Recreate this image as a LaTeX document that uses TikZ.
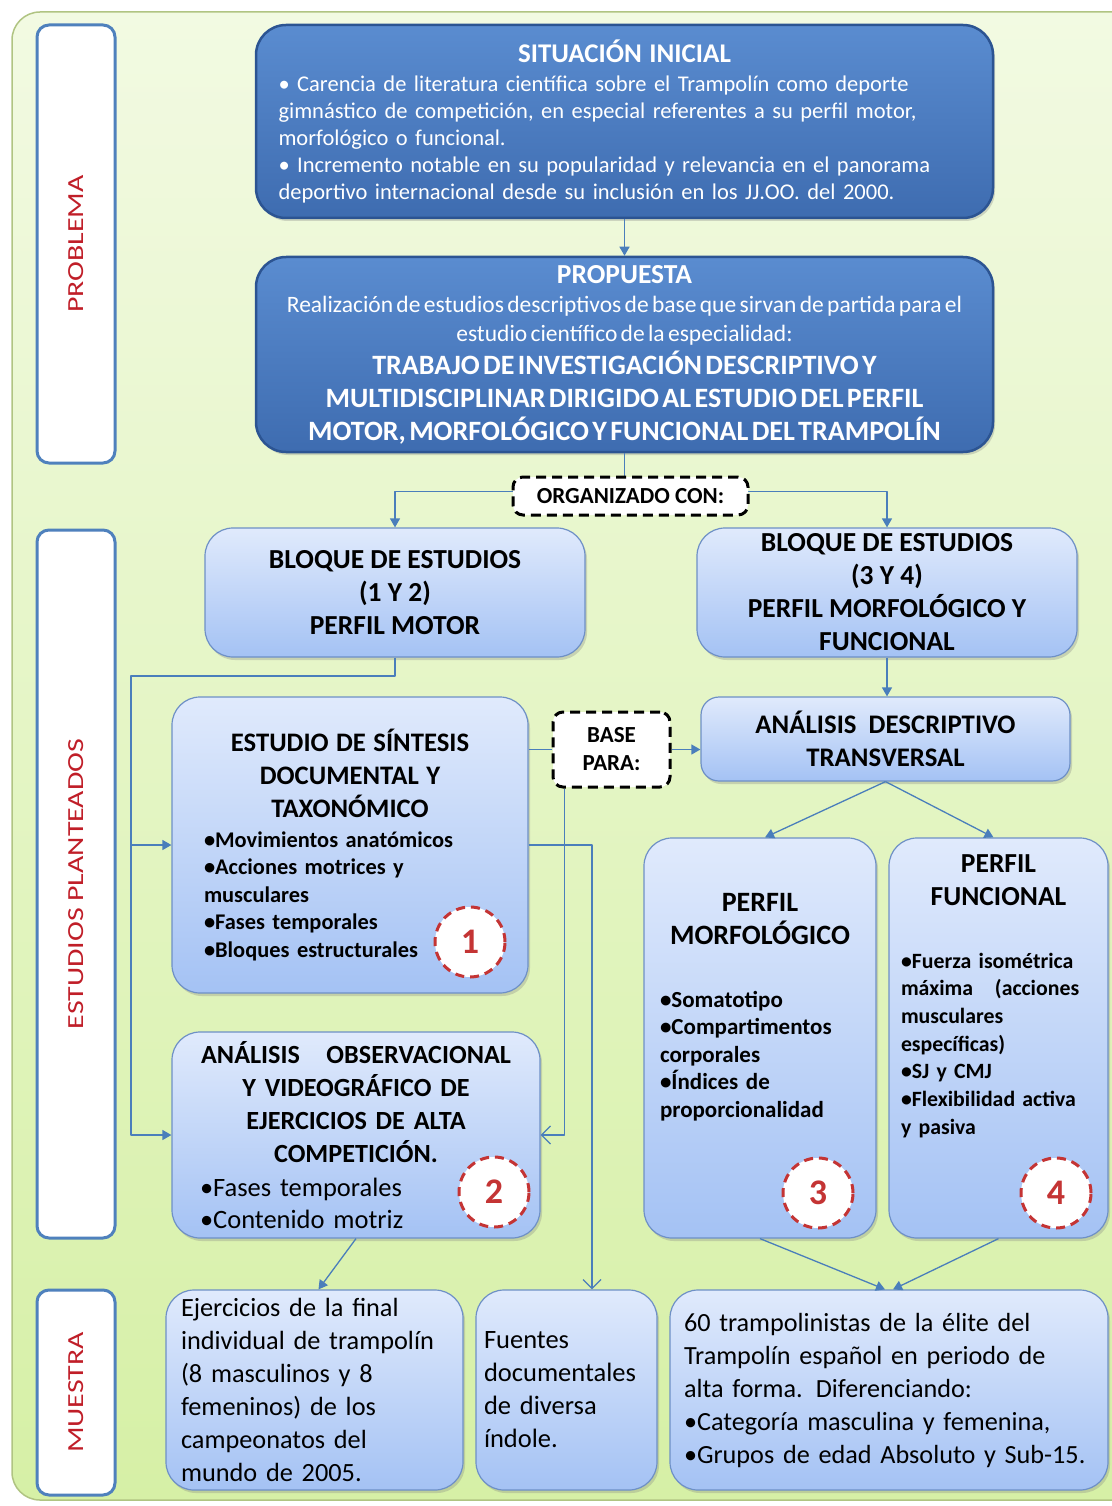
\documentclass[tikz,border=0pt]{standalone}
\usepackage{fontspec}
\usepackage{graphicx}
\setmainfont{Carlito}
\usetikzlibrary{arrows.meta,shadows,positioning}

\definecolor{paneltop}{RGB}{242,250,226}
\definecolor{panelbot}{RGB}{214,240,166}
\definecolor{panelline}{RGB}{176,196,130}
\definecolor{sideblue}{RGB}{79,129,189}
\definecolor{labelred}{RGB}{192,30,40}
\definecolor{darktop}{RGB}{90,140,208}
\definecolor{darkbot}{RGB}{62,108,176}
\definecolor{darkline}{RGB}{44,84,146}
\definecolor{lighttop}{RGB}{224,234,252}
\definecolor{lightbot}{RGB}{164,194,244}
\definecolor{lightline}{RGB}{110,144,198}
\definecolor{linkblue}{RGB}{74,126,187}
\definecolor{badgered}{RGB}{196,52,52}

\newcommand{\sidelbl}[1]{\scalebox{1.3}[1]{#1}}

\begin{document}
\begin{tikzpicture}[x=1pt,y=-1pt,>={Triangle[length=9pt,width=10pt]},line join=round,
  panel/.style={draw=panelline,line width=1.5pt,rounded corners=28pt,top color=paneltop,bottom color=panelbot},
  sidebox/.style={rotate=90,draw=sideblue,line width=3pt,fill=white,rounded corners=12pt,minimum height=78pt,inner sep=0pt,text=labelred,font=\fontsize{23}{23}\selectfont},
  darkbox/.style={draw=darkline,line width=2.5pt,rounded corners=30pt,top color=darktop,bottom color=darkbot,text=white,inner sep=0pt,
    drop shadow={shadow xshift=2pt,shadow yshift=-3pt,opacity=.3}},
  lightbox/.style={draw=lightline,line width=1.2pt,rounded corners=28pt,top color=lighttop,bottom color=lightbot,text=black,inner sep=0pt,
    drop shadow={shadow xshift=2pt,shadow yshift=-3pt,opacity=.3}},
  dashbox/.style={draw=black,line width=3pt,dash pattern=on 10pt off 6pt,rounded corners=10pt,fill=white,inner sep=0pt,font=\fontsize{23}{28}\selectfont\bfseries},
  badge/.style={circle,minimum size=70pt,inner sep=0pt,fill=white,draw=badgered,line width=3pt,dash pattern=on 9pt off 6pt,text=badgered,font=\fontsize{36}{36}\selectfont\bfseries},
  conn/.style={draw=linkblue,line width=1.3pt},
  openarr/.style={-{Straight Barb[length=9pt,width=18pt]}}]
\useasboundingbox (0,0) rectangle (1111,1506);

% background panel
\draw[panel] (12,12) rectangle (1140,1500);

% row labels
\node[sidebox,minimum width=438pt] (lprob) at (76,244) {\sidelbl{PROBLEMA}};
\node[sidebox,minimum width=708pt] (lest) at (76,884) {\sidelbl{ESTUDIOS PLANTEADOS}};
\node[sidebox,minimum width=205pt] (lmue) at (76,1392.5) {\sidelbl{MUESTRA}};

% problema
\node[darkbox,minimum width=737pt,minimum height=193pt,text width=692pt,align=left,font=\fontsize{22.5}{27}\selectfont] (sit) at (624.5,121.5) {%
  {\centering\fontsize{27}{30}\selectfont\bfseries SITUACIÓN INICIAL\par}\vspace{2pt}
  • Carencia de literatura científica sobre el Trampolín como deporte\\
  gimnástico de competición, en especial referentes a su perfil motor,\\
  morfológico o funcional.\\
  • Incremento notable en su popularidad y relevancia en el panorama\\
  deportivo internacional desde su inclusión en los JJ.OO. del 2000.};
\node[darkbox,minimum width=737pt,minimum height=195pt,text width=715pt,align=center] (prop) at (624.5,354.5) {%
  {\fontsize{27.5}{28}\selectfont\bfseries PROPUESTA\par}
  {\fontsize{23.5}{29}\selectfont Realización de estudios descriptivos de base que sirvan de partida para el\\
  estudio científico de la especialidad:\par}
  {\fontsize{28}{33}\selectfont\bfseries TRABAJO DE INVESTIGACIÓN DESCRIPTIVO Y\\
  MULTIDISCIPLINAR DIRIGIDO AL ESTUDIO DEL PERFIL\\
  MOTOR, MORFOLÓGICO Y FUNCIONAL DEL TRAMPOLÍN\par}};

% estudios
\node[lightbox,minimum width=380pt,minimum height=129pt,align=center,font=\fontsize{27.5}{33}\selectfont\bfseries] (blk12) at (395,592.5)
  {BLOQUE DE ESTUDIOS\\(1 Y 2)\\PERFIL MOTOR};
\node[lightbox,minimum width=380pt,minimum height=129pt,align=center,font=\fontsize{27.5}{33}\selectfont\bfseries] (blk34) at (887,592.5)
  {BLOQUE DE ESTUDIOS\\(3 Y 4)\\PERFIL MORFOLÓGICO Y\\FUNCIONAL};
\node[lightbox,rounded corners=18pt,minimum width=369pt,minimum height=84pt,align=center,font=\fontsize{26.8}{33}\selectfont\bfseries] (adt) at (885.5,739)
  {ANÁLISIS\ \ DESCRIPTIVO\\TRANSVERSAL};
\node[lightbox,minimum width=356pt,minimum height=296pt,text width=292pt,align=left,font=\fontsize{22.4}{27.5}\selectfont\bfseries] (est1) at (350,845) {%
  {\centering\fontsize{26.7}{33}\selectfont ESTUDIO DE SÍNTESIS\\ DOCUMENTAL Y\\ TAXONÓMICO\par}\vspace{2pt}
  •Movimientos anatómicos\\
  •Acciones motrices y\\
  musculares\\
  •Fases temporales\\
  •Bloques estructurales};
\node[lightbox,minimum width=368pt,minimum height=206pt,text width=312pt,align=left,font=\fontsize{26.5}{32}\selectfont] (obs2) at (356,1135) {%
  {\centering\fontsize{26.2}{33}\selectfont\bfseries \makebox[\linewidth]{ANÁLISIS\ \ \ OBSERVACIONAL}\\ Y VIDEOGRÁFICO DE\\ EJERCICIOS DE ALTA\\ COMPETICIÓN.\par}\vspace{2pt}
  •Fases temporales\\
  •Contenido motriz};
\node[lightbox,minimum width=232pt,minimum height=400pt] (morf3) at (760,1038) {};
\node[anchor=north,inner sep=0pt,text width=200pt,align=left,font=\fontsize{23}{27.5}\selectfont\bfseries] (morf3txt) at ([yshift=-56pt]morf3.north) {%
  {\centering\fontsize{28}{33}\selectfont PERFIL\\ MORFOLÓGICO\par}\vspace{35pt}
  •Somatotipo\\
  •Compartimentos\\
  corporales\\
  •Índices de\\
  proporcionalidad};
\node[lightbox,minimum width=219pt,minimum height=400pt] (func4) at (998.5,1038) {};
\node[anchor=north,inner sep=0pt,text width=195pt,align=left,font=\fontsize{21.8}{27.7}\selectfont\bfseries] (func4txt) at ([yshift=-17pt]func4.north) {%
  {\centering\fontsize{27.5}{33}\selectfont PERFIL\\ FUNCIONAL\par}\vspace{35pt}
  •Fuerza isométrica\\
  máxima\ \ \ (acciones\\
  musculares\\
  específicas)\\
  •SJ y CMJ\\
  •Flexibilidad activa\\
  y pasiva};

% muestra
\node[lightbox,minimum width=297pt,minimum height=200pt,text width=267pt,align=left,font=\fontsize{26.3}{33}\selectfont] (mej) at (314.5,1390)
  {Ejercicios de la final\\ individual de trampolín\\ (8 masculinos y 8\\ femeninos) de los\\ campeonatos del\\ mundo de 2005.};
\node[lightbox,minimum width=181pt,minimum height=200pt,text width=165pt,align=left,font=\fontsize{26.5}{33}\selectfont] (mfue) at (566.5,1390)
  {Fuentes\\ documentales\\ de diversa\\ índole.};
\node[lightbox,minimum width=438pt,minimum height=200pt,text width=410pt,align=left,font=\fontsize{26.2}{33}\selectfont] (mtra) at (889,1390)
  {60 trampolinistas de la élite del\\ Trampolín español en periodo de\\ alta forma. Diferenciando:\\ •Categoría masculina y femenina,\\ •Grupos de edad Absoluto y Sub-15.};

% connectors
\draw[conn,->] (sit.south) -- (prop.north);
\draw[conn] (prop.south) -- ++(0,38) coordinate (split);
\draw[conn,->] (split) -| (blk12.north);
\draw[conn,->] (split) -| (blk34.north);
\coordinate (rail) at (131,676);
\draw[conn,->] (blk12.south) |- (rail) |- (obs2.west);
\draw[conn,->] (rail |- est1.west) -- (est1.west);
\draw[conn,->] (blk34.south) -- (blk34.south |- adt.north);
\draw[conn,->] (adt.south) -- ([xshift=5pt]morf3.north);
\draw[conn,->] (adt.south) -- ([xshift=-5pt]func4.north);
\node[dashbox,minimum width=117pt,minimum height=75pt,align=center] (base) at (611.5,749.5) {BASE\\PARA:};
\draw[conn] (est1.east |- base.west) -- (base.west);
\draw[conn,->] (base.east) -- (base.east -| adt.west);
\draw[conn,openarr] ([xshift=13pt]base.south west) |- (obs2.east);
\draw[conn,openarr] (est1.east) -| ([xshift=25.5pt]mfue.north);
\draw[conn,->] (obs2.south) -- ([xshift=4pt]mej.north);
\draw[conn,->] (morf3.south) -- ([xshift=-4pt]mtra.north);
\draw[conn,->] (func4.south) -- ([xshift=4pt]mtra.north);
\node[dashbox,minimum width=235pt,minimum height=38pt] (org) at (630.5,496) {ORGANIZADO CON:};

% study numbers
\node[badge] (b1) at (470,942) {1};
\node[badge] (b2) at (494,1192) {2};
\node[badge] (b3) at (818,1193) {3};
\node[badge] (b4) at (1056,1193) {4};
\end{tikzpicture}
\end{document}
